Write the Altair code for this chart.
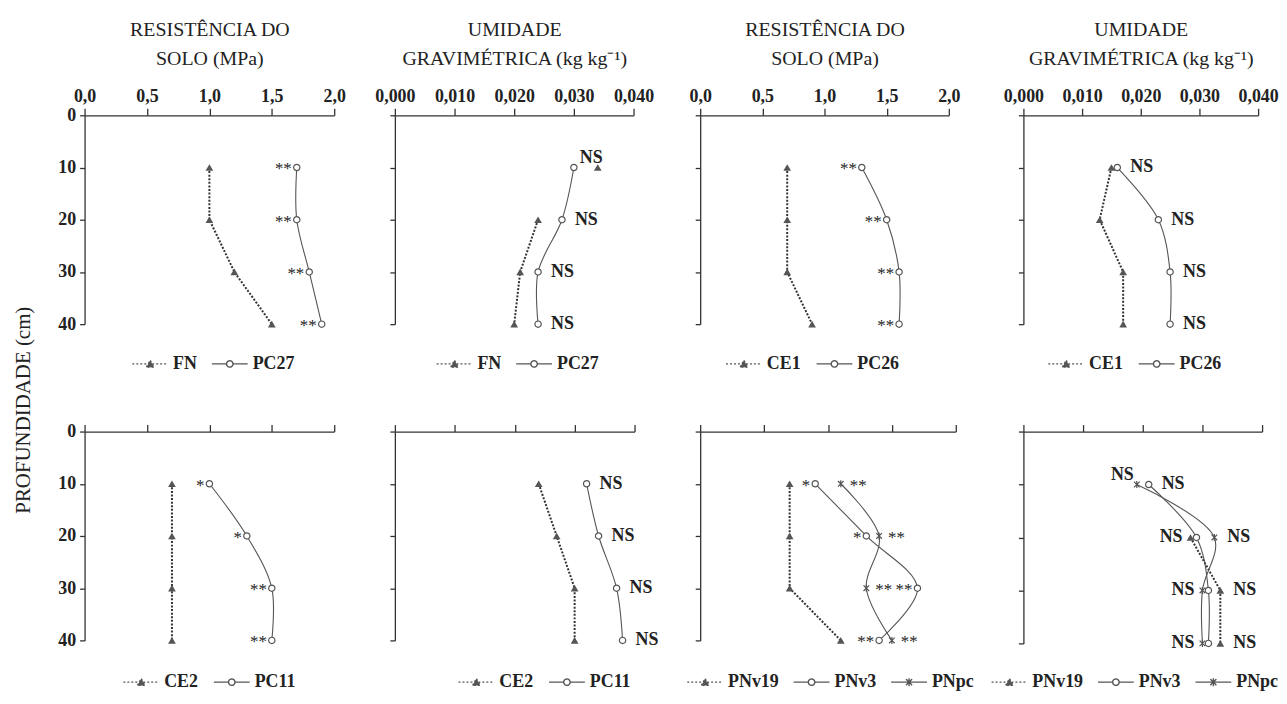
import altair as alt
import pandas as pd

FONT = "Liberation Serif"
INK = "#222222"
GREY = "#555555"

DEPTHS = [10, 20, 30, 40]
Y_TICKS = [0, 10, 20, 30, 40]
RES_TICKS = [0.0, 0.5, 1.0, 1.5, 2.0]
UMI_TICKS = [0.0, 0.01, 0.02, 0.03, 0.04]
RES_TITLE = ["RESISTÊNCIA DO", "SOLO (MPa)"]
UMI_TITLE = ["UMIDADE", "GRAVIMÉTRICA (kg kg\u207b\u00b9)"]
Y_TITLE = "PROFUNDIDADE (cm)"

# ---- top row ----
P1_FN = [1.0, 1.0, 1.2, 1.5]
P1_PC27 = [1.7, 1.7, 1.8, 1.9]
P2_FN = [0.034, 0.024, 0.021, 0.020]
P2_PC27 = [0.030, 0.028, 0.024, 0.024]
P3_CE1 = [0.7, 0.7, 0.7, 0.9]
P3_PC26 = [1.3, 1.5, 1.6, 1.6]
P4_CE1 = [0.015, 0.013, 0.017, 0.017]
P4_PC26 = [0.016, 0.023, 0.025, 0.025]
# ---- bottom row ----
P5_CE2 = [0.7, 0.7, 0.7, 0.7]
P5_PC11 = [1.0, 1.3, 1.5, 1.5]
P6_CE2 = [0.024, 0.027, 0.030, 0.030]
P6_PC11 = [0.032, 0.034, 0.037, 0.038]
P7_PNv19 = [0.7, 0.7, 0.7, 1.1]
P7_PNv3 = [0.9, 1.3, 1.7, 1.4]
P7_PNpc = [1.1, 1.4, 1.3, 1.5]
P8_PNv19 = [None, 0.028, 0.033, 0.033]
P8_PNv3 = [0.021, 0.029, 0.031, 0.031]
P8_PNpc = [0.019, 0.032, 0.030, 0.030]

# significance labels: (side, series at each depth, text at each depth)
P1_LABELS = [("left", ["PC27", "PC27", "PC27", "PC27"], ["**", "**", "**", "**"])]
P2_LABELS = [("upright", ["PC27"], ["NS"]),
             ("right", [None, "PC27", "PC27", "PC27"], [None, "NS", "NS", "NS"])]
P3_LABELS = [("left", ["PC26", "PC26", "PC26", "PC26"], ["**", "**", "**", "**"])]
P4_LABELS = [("right", ["PC26", "PC26", "PC26", "PC26"], ["NS", "NS", "NS", "NS"])]
P5_LABELS = [("left", ["PC11", "PC11", "PC11", "PC11"], ["*", "*", "**", "**"])]
P6_LABELS = [("right", ["PC11", "PC11", "PC11", "PC11"], ["NS", "NS", "NS", "NS"])]
P7_LABELS = [("left", ["PNv3", "PNv3", "PNv3", "PNv3"], ["*", "*", "**", "**"]),
             ("right", ["PNpc", "PNpc", "PNpc", "PNpc"], ["**", "**", "**", "**"])]
P8_LABELS = [("upleft", ["PNpc"], ["NS"]),
             ("left", [None, "PNv19", "PNpc", "PNpc"], [None, "NS", "NS", "NS"]),
             ("right", ["PNv3", "PNpc", "PNv19", "PNv19"], ["NS", "NS", "NS", "NS"])]

STAR = "M-0.8,-0.8L0.8,0.8M0.8,-0.8L-0.8,0.8M0,-1L0,1"
LEG_PATH = {
    "tri": "M-2,0L2,0M-0.42,0.36L0,-0.4L0.42,0.36Z",
    "circ": "M-2,0L-0.36,0M0.36,0L2,0M-0.36,0A0.36,0.36,0,1,1,0.36,0A0.36,0.36,0,1,1,-0.36,0Z",
    "star": "M-2,0L2,0M-0.34,-0.34L0.34,0.34M0.34,-0.34L-0.34,0.34M0,-0.45L0,0.45",
}
LEG_FILL = {"tri": GREY, "circ": "white", "star": GREY}
LEG_DASH = {"tri": [2, 2], "circ": [1, 0], "star": [1, 0]}


def make_panel(series, labels, kind, width, height, first_col, top_row,
               leg_x, leg_y, unlinked=(), label_expr=None):
    rows = []
    for name, marker, vals in series:
        for d, v in zip(DEPTHS, vals):
            if v is None:
                continue
            rows.append(dict(name=name, marker=marker, depth=d, value=v,
                             conn=(name, d) not in unlinked))
    df = pd.DataFrame(rows)
    lookup = {(r["name"], r["depth"]): r["value"] for r in rows}
    lrows = []
    for side, names, texts in labels:
        for d, n, t in zip(DEPTHS, names, texts):
            if n is None:
                continue
            lrows.append(dict(name=n, depth=d, value=lookup[(n, d)], text=t, side=side))
    ldf = pd.DataFrame(lrows)
    ns = all(ldf["text"] == "NS")

    if kind == "res":
        dom, ticks, fmt, title = [0, 2], RES_TICKS, ".1f", RES_TITLE
    else:
        dom, ticks, fmt, title = [0, 0.04], UMI_TICKS, ".3f", UMI_TITLE

    xaxis = alt.Axis(orient="top", values=ticks, labels=top_row, labelOverlap=False,
                     labelFlush=False,
                     labelExpr=f"replace(format(datum.value, '{fmt}'), '.', ',')",
                     title=title if top_row else None, tickSize=7, labelPadding=3,
                     titlePadding=19, titleLineHeight=29)
    yaxis = alt.Axis(orient="left", values=Y_TICKS, labels=first_col, title=None,
                     tickSize=5, labelPadding=4, labelFlush=False)
    X = alt.X("value:Q", scale=alt.Scale(domain=dom, nice=False, zero=False), axis=xaxis)
    Y = alt.Y("depth:Q", scale=alt.Scale(domain=[0, 40], reverse=True, nice=False), axis=yaxis)

    base = alt.Chart(df)
    dotted = base.transform_filter("datum.marker == 'tri' && datum.conn").mark_line(
        strokeDash=[2, 1.6], strokeWidth=2, color="#333333").encode(
        x=X, y=Y, detail="name:N", order="depth:Q")
    solid = base.transform_filter("datum.marker != 'tri'").mark_line(
        interpolate="catmull-rom", strokeWidth=1.1, color=GREY).encode(
        x=X, y=Y, detail="name:N", order="depth:Q")
    tri = base.transform_filter("datum.marker == 'tri'").mark_point(
        shape="triangle-up", filled=True, color=GREY, size=60, opacity=1).encode(x=X, y=Y)
    circ = base.transform_filter("datum.marker == 'circ'").mark_point(
        shape="circle", filled=True, fill="white", stroke=GREY, strokeWidth=1.2,
        size=40, opacity=1).encode(x=X, y=Y)
    star = base.transform_filter("datum.marker == 'star'").mark_point(
        shape=STAR, filled=False, color=GREY, strokeWidth=1.2, size=50,
        opacity=1).encode(x=X, y=Y)

    tstyle = dict(font=FONT, fontSize=18 if ns else 17,
                  fontWeight="bold" if ns else "normal", color=INK, baseline="middle")
    tbase = alt.Chart(ldf)
    layers_t = []
    for side, align, dx, dy in [("left", "right", -8 if ns else -5, 0 if ns else 2),
                                ("right", "left", 13 if ns else 9, 0 if ns else 2),
                                ("upright", "left", 6, -10),
                                ("upleft", "right", -3, -10)]:
        if side not in set(ldf["side"]):
            continue
        layers_t.append(tbase.transform_filter(f"datum.side == '{side}'").mark_text(
            align=align, dx=dx, dy=dy, **tstyle).encode(x=X, y=Y, text="text:N"))

    names = [s[0] for s in series]
    markers = [s[1] for s in series]
    lkw = dict(orient="none", legendX=leg_x, legendY=leg_y, direction="horizontal",
               title=None, symbolSize=324, symbolStrokeWidth=1.4, symbolOpacity=1,
               labelFont=FONT, labelFontSize=18, labelFontWeight="bold",
               labelColor=INK, labelOffset=13, columnPadding=12)
    if label_expr:
        lkw["labelExpr"] = label_expr
    L = alt.Legend(**lkw)
    leg = base.mark_point(filled=True, stroke=GREY, strokeWidth=1.4).encode(
        x=X, y=Y, opacity=alt.value(0),
        color=alt.Color("name:N", scale=alt.Scale(domain=names, range=[LEG_FILL[m] for m in markers]), legend=L),
        shape=alt.Shape("name:N", scale=alt.Scale(domain=names, range=[LEG_PATH[m] for m in markers]), legend=L),
        strokeDash=alt.StrokeDash("name:N", scale=alt.Scale(domain=names, range=[LEG_DASH[m] for m in markers]), legend=L),
    )
    return alt.layer(dotted, solid, tri, circ, star, *layers_t, leg).properties(
        width=width, height=height)


def gap(w):
    # empty spacer view, used only to set the distance between panels
    return alt.Chart(pd.DataFrame({"v": [0]})).mark_point(opacity=0).encode(
        x=alt.X("v:Q", axis=None), y=alt.Y("v:Q", axis=None)
    ).properties(width=w, height=1)


NB = "\u00a0"
TOP_LEG_Y = 240
BOT_LEG_Y = 242
p1 = make_panel([("FN", "tri", P1_FN), ("PC27", "circ", P1_PC27)], P1_LABELS, "res",
                251, 210, True, True, 56, TOP_LEG_Y)
p2 = make_panel([("FN", "tri", P2_FN), ("PC27", "circ", P2_PC27)], P2_LABELS, "umi",
                240, 210, False, True, 50, TOP_LEG_Y, unlinked=[("FN", 10)])
p3 = make_panel([("CE1", "tri", P3_CE1), ("PC26", "circ", P3_PC26)], P3_LABELS, "res",
                250, 210, False, True, 34, TOP_LEG_Y,
                label_expr=f"datum.label == 'CE1' ? '{NB}{NB}{NB}CE1' : datum.label")
p4 = make_panel([("CE1", "tri", P4_CE1), ("PC26", "circ", P4_PC26)], P4_LABELS, "umi",
                236, 210, False, True, 33, TOP_LEG_Y)
p5 = make_panel([("CE2", "tri", P5_CE2), ("PC11", "circ", P5_PC11)], P5_LABELS, "res",
                251, 210, True, False, 47, BOT_LEG_Y)
p6 = make_panel([("CE2", "tri", P6_CE2), ("PC11", "circ", P6_PC11)], P6_LABELS, "umi",
                241, 210, False, False, 72, BOT_LEG_Y)
p7 = make_panel([("PNv19", "tri", P7_PNv19), ("PNv3", "circ", P7_PNv3), ("PNpc", "star", P7_PNpc)],
                P7_LABELS, "res", 257, 210, False, False, -5, BOT_LEG_Y)
p8 = make_panel([("PNv19", "tri", P8_PNv19), ("PNv3", "circ", P8_PNv3), ("PNpc", "star", P8_PNpc)],
                P8_LABELS, "umi", 240, 213, False, False, -24, BOT_LEG_Y)

chart = alt.concat(
    p1, gap(61), p2, gap(66), p3, gap(68), p4,
    p5, gap(61), p6, gap(57), p7, gap(62), p8,
    columns=7, spacing={"row": 108, "column": 0}, bounds="flush", align="none",
    title=alt.TitleParams(text=Y_TITLE, orient="left", anchor="middle", font=FONT,
                          fontSize=21, fontWeight="normal", color=INK, offset=24, dx=-55),
).resolve_scale(
    color="independent", shape="independent", strokeDash="independent"
).resolve_legend(
    color="independent", shape="independent", strokeDash="independent"
).properties(
    padding={"left": 4, "top": 10, "right": 0, "bottom": 0}
).configure(font=FONT).configure_view(stroke=None).configure_axis(
    domainColor="#333333", domainWidth=1.3, tickColor="#333333", tickWidth=1.3,
    grid=False, labelFont=FONT, labelFontSize=18, labelFontWeight="bold",
    labelColor=INK, titleFont=FONT, titleFontSize=20, titleFontWeight="normal",
    titleColor=INK,
)

chart.save("out.html", embed_options={"renderer": "svg", "actions": False})
